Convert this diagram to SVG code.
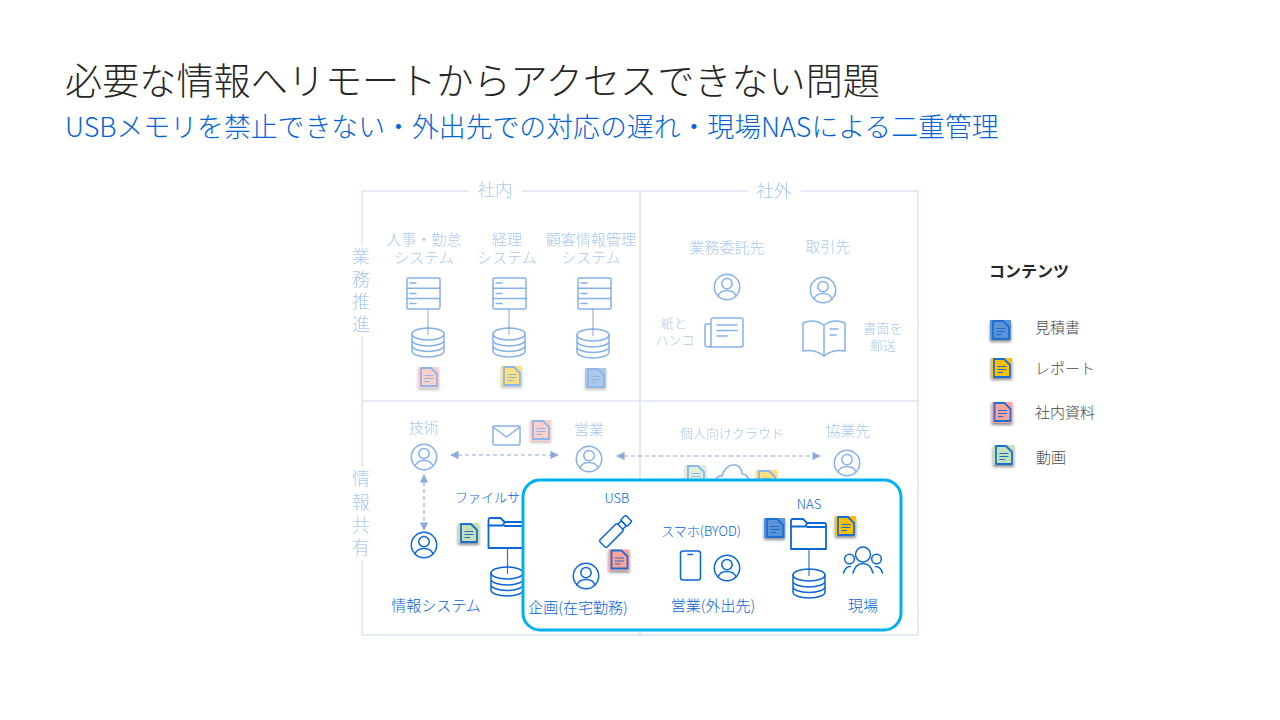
<svg xmlns="http://www.w3.org/2000/svg" width="1280" height="720" viewBox="0 0 1280 720">
<style>
text{font-family:"Noto Sans CJK JP","Noto Sans",sans-serif;fill:#0563d6;font-weight:300}
.m{text-anchor:middle}
.f{font-size:15px}
.s{font-size:13px}
.i{fill:none;stroke:#0b66d6;stroke-width:1.5;stroke-linejoin:round;stroke-linecap:round}
.frame{fill:none;stroke:#dce5f5;stroke-width:1.6}
.faded{opacity:.5}
.faded text{opacity:.72}
.ln{stroke:#3f6fb5;stroke-width:1.2;fill:none}
.arr{stroke:#8ea9db;stroke-width:1.2;stroke-dasharray:4 3;fill:none;marker-start:url(#tri);marker-end:url(#tri)}
.dl{fill:none;stroke:#1b6fd2;stroke-width:1.1}
.leg{font-size:15px}
</style>
<defs>
<marker id="tri" viewBox="0 0 10 10" refX="9" refY="5" markerWidth="7" markerHeight="7" orient="auto-start-reverse"><path d="M0 0L10 5L0 10z" fill="#8ea9db"/></marker>
<filter id="sh" x="-30%" y="-30%" width="160%" height="170%"><feDropShadow dx="0" dy="2" stdDeviation="1.4" flood-color="#000" flood-opacity=".45"/></filter>
<g id="person" class="i"><circle r="12.700"/><circle cy="-3.400" r="5.200"/><path d="M-9 9C-7.500 4.500-4 3.400 0 3.400S7.500 4.500 9 9"/></g>
<g id="server" class="i"><rect width="33" height="31" rx="1.500"/><path d="M0 10.300H33M0 20.600H33M3 5H9M3 15.500H9M3 25.500H9"/></g>
<g id="db" class="i"><ellipse cx="16" cy="6" rx="16" ry="6"/><path d="M0 6V23C0 26.500 7 29 16 29S32 26.500 32 23V6M0 12C0 15.500 7 18 16 18S32 15.500 32 12M0 17.500C0 21 7 23.500 16 23.500S32 21 32 17.500"/></g>
<g id="folder" class="i" style="stroke-width:1.8"><path d="M0 30V2Q0 0 2 0H12L16 4H33Q35 4 35 6V30Z"/><path d="M0 7.500H14L16 5M16 8H35"/></g>
<path id="sheet" d="M3 1H13L19 7V19H3Z" stroke="#1b6fd2" stroke-width="1.800" fill="none" stroke-linejoin="round"/>
<path id="sheetl" d="M6.500 8.500H15.500M6.500 11.500H15.500M6.500 14.500H12" class="dl"/>
<g id="tb"><rect width="21" height="20" fill="#5b93d8" filter="url(#sh)"/><use href="#sheet"/><use href="#sheetl"/></g>
<g id="ty"><rect width="21" height="20" fill="#ffc000" filter="url(#sh)"/><use href="#sheet"/><use href="#sheetl"/></g>
<g id="tp"><rect width="21" height="21" fill="#ffa39b" filter="url(#sh)"/><use href="#sheet"/><use href="#sheetl"/></g>
<g id="tg"><rect width="21" height="20" fill="#c5e0b4" filter="url(#sh)"/><use href="#sheet"/><use href="#sheetl"/></g>
</defs>
<rect width="1280" height="720" fill="#fff"/>
<g id="title">
<text x="65" y="95" font-size="37.130" style="fill:#262626">必要な情報へリモートからアクセスできない問題</text>
<text x="65" y="136.500" font-size="26.870">USBメモリを禁止できない・外出先での対応の遅れ・現場NASによる二重管理</text>
</g>
<g id="grid">
<path class="frame" d="M469 191H362V245M362 337V467M362 560V635H918V191H801M748 191H522M640 191V635M362 401H918"/>
</g>
<g id="connectors">
<g class="faded">
<path class="ln" d="M428 310V335M509 309V335M593 309V336"/>
</g>
<path class="arr" d="M451 455H558"/>
<path class="arr" d="M424 475V530"/>
<path class="arr" d="M617 456H820"/>
<path class="ln" d="M507.500 548V574"/>
</g>
<g id="label-naisha" class="faded"><text x="495" y="196" font-size="17.500" class="m">社内</text></g>
<g id="label-shagai" class="faded"><text x="774" y="197" font-size="17.500" class="m">社外</text></g>
<g id="label-gyomu" class="faded"><text font-size="18" class="m"><tspan x="361" y="263">業</tspan><tspan x="361" y="286">務</tspan><tspan x="361" y="308">推</tspan><tspan x="361" y="331">進</tspan></text></g>
<g id="label-joho" class="faded"><text font-size="18" class="m"><tspan x="361" y="485">情</tspan><tspan x="361" y="509">報</tspan><tspan x="361" y="532">共</tspan><tspan x="361" y="554">有</tspan></text></g>
<g id="sys-hr" class="faded">
<text class="m f"><tspan x="424" y="245">人事・勤怠</tspan><tspan x="424" y="263">システム</tspan></text>
<use href="#server" x="407" y="278"/><use href="#db" x="412" y="328"/><use href="#tp" x="418" y="367"/>
</g>
<g id="sys-acc" class="faded">
<text class="m f"><tspan x="507" y="245">経理</tspan><tspan x="507" y="263">システム</tspan></text>
<use href="#server" x="493" y="278"/><use href="#db" x="493" y="328"/><use href="#ty" x="501" y="366"/>
</g>
<g id="sys-crm" class="faded">
<text class="m f"><tspan x="591" y="245">顧客情報管理</tspan><tspan x="591" y="263">システム</tspan></text>
<use href="#server" x="578" y="278"/><use href="#db" x="577" y="329"/><use href="#tb" x="585" y="368"/>
</g>
<g id="outsource" class="faded">
<text x="727" y="253" class="m f">業務委託先</text><use href="#person" x="727" y="287"/>
<text class="m s"><tspan x="674" y="328">紙と</tspan><tspan x="675" y="345">ハンコ</tspan></text>
<g class="i" transform="translate(705 318)"><path d="M6 6H1.500Q0 6 0 8V27Q0 29 3 29H36Q38 29 38 27V2Q38 0 36 0H8Q6 0 6 2V27Q6 29 3 29"/><path d="M12 7H32M12 12.500H32M12 18H22"/></g>
</g>
<g id="client" class="faded">
<text x="828" y="252" class="m f">取引先</text><use href="#person" x="823" y="290"/>
<g class="i" transform="translate(803 320)"><path d="M0 3Q11 -2 21 5Q31 -2 42 3V31Q30 29 21 36Q12 29 0 31Z"/><path d="M21 5V36M27 9H35M27 15H33"/></g>
<text class="m s"><tspan x="883" y="333">書面を</tspan><tspan x="883" y="350">郵送</tspan></text>
</g>
<g id="tech" class="faded"><text x="424" y="433" class="m f">技術</text><use href="#person" x="424" y="457"/></g>
<g id="mail" class="faded">
<g class="i" transform="translate(493 426)"><rect width="27" height="19" rx="1.500"/><path d="M0 1L13.500 11L27 1"/></g>
<use href="#tp" x="530" y="420"/>
</g>
<g id="sales" class="faded"><text x="589" y="435" class="m f">営業</text><use href="#person" x="589" y="459"/></g>
<g id="cloud-personal" class="faded">
<text x="732" y="438" class="m s">個人向けクラウド</text>
<use href="#tg" x="685" y="465"/>
<path class="i" d="M716 490C711 480 719 475 722 476C726 461 742 462 742 474C749 474 751 484 748 490"/>
<use href="#ty" x="756" y="470"/>
</g>
<g id="partner" class="faded"><text x="848" y="436" class="m f">協業先</text><use href="#person" x="847" y="463"/></g>
<g id="info-sys"><use href="#person" x="424" y="545"/><text x="436" y="611" class="m f">情報システム</text></g>
<g id="fileserver">
<text x="455" y="502" class="s">ファイルサーバー</text>
<use href="#tg" x="458" y="523"/>
<use href="#folder" x="488.500" y="518"/>
<use href="#db" x="491" y="567"/>
</g>
<g id="highlight"><rect x="523" y="480" width="378" height="150" rx="17" fill="#fff" stroke="#00b0f0" stroke-width="3"/></g>
<g id="usb">
<text x="617" y="503" class="m s">USB</text>
<g class="i" transform="translate(616 531) rotate(-45)"><rect x="-19" y="-5" width="25" height="10" rx="1.500"/><path d="M6 -3.500H11V3.500H6"/><rect x="11" y="-4.500" width="7" height="9" rx="1"/></g>
<use href="#tp" x="608.500" y="549.500"/>
</g>
<g id="remote-work"><use href="#person" x="586" y="576"/><text x="578" y="613" class="m f">企画(在宅勤務)</text></g>
<g id="smartphone">
<text x="701" y="536" class="m s">スマホ(BYOD)</text>
<g class="i" transform="translate(680.500 551)"><rect width="20" height="29" rx="2.500"/><path d="M7.500 3.500H12"/></g>
<use href="#person" x="727" y="568"/>
<text x="713" y="611" class="m f">営業(外出先)</text>
</g>
<g id="nas">
<text x="809" y="509" class="m s">NAS</text>
<use href="#tb" x="764" y="518"/>
<use href="#folder" x="791" y="519"/>
<use href="#ty" x="835" y="516"/>
<path class="ln" d="M809 550V576"/>
<use href="#db" x="793" y="569"/>
</g>
<g id="field">
<g class="i" transform="translate(863 561)"><circle cy="-6.500" r="7.500"/><circle cx="-13.500" cy="-2" r="4.800"/><circle cx="13.500" cy="-2" r="4.800"/><path d="M-10 12C-8 4-4 2.500 0 2.500S8 4 10 12M-19.500 12C-18 7-16 5.500-12.500 5.500M19.500 12C18 7 16 5.500 12.500 5.500"/></g>
<text x="863" y="611" class="m f">現場</text>
</g>
<g id="legend">
<text x="989" y="277" font-size="16" style="fill:#262626;font-weight:700">コンテンツ</text>
<use href="#tb" x="990" y="320"/><text x="1035" y="333" class="leg" style="fill:#4a4a4a">見積書</text>
<use href="#ty" x="991" y="358"/><text x="1035" y="374" class="leg" style="fill:#4a4a4a">レポート</text>
<use href="#tp" x="991.500" y="402"/><text x="1035" y="418" class="leg" style="fill:#4a4a4a">社内資料</text>
<use href="#tg" x="993" y="445"/><text x="1036" y="463" class="leg" style="fill:#4a4a4a">動画</text>
</g>
</svg>
